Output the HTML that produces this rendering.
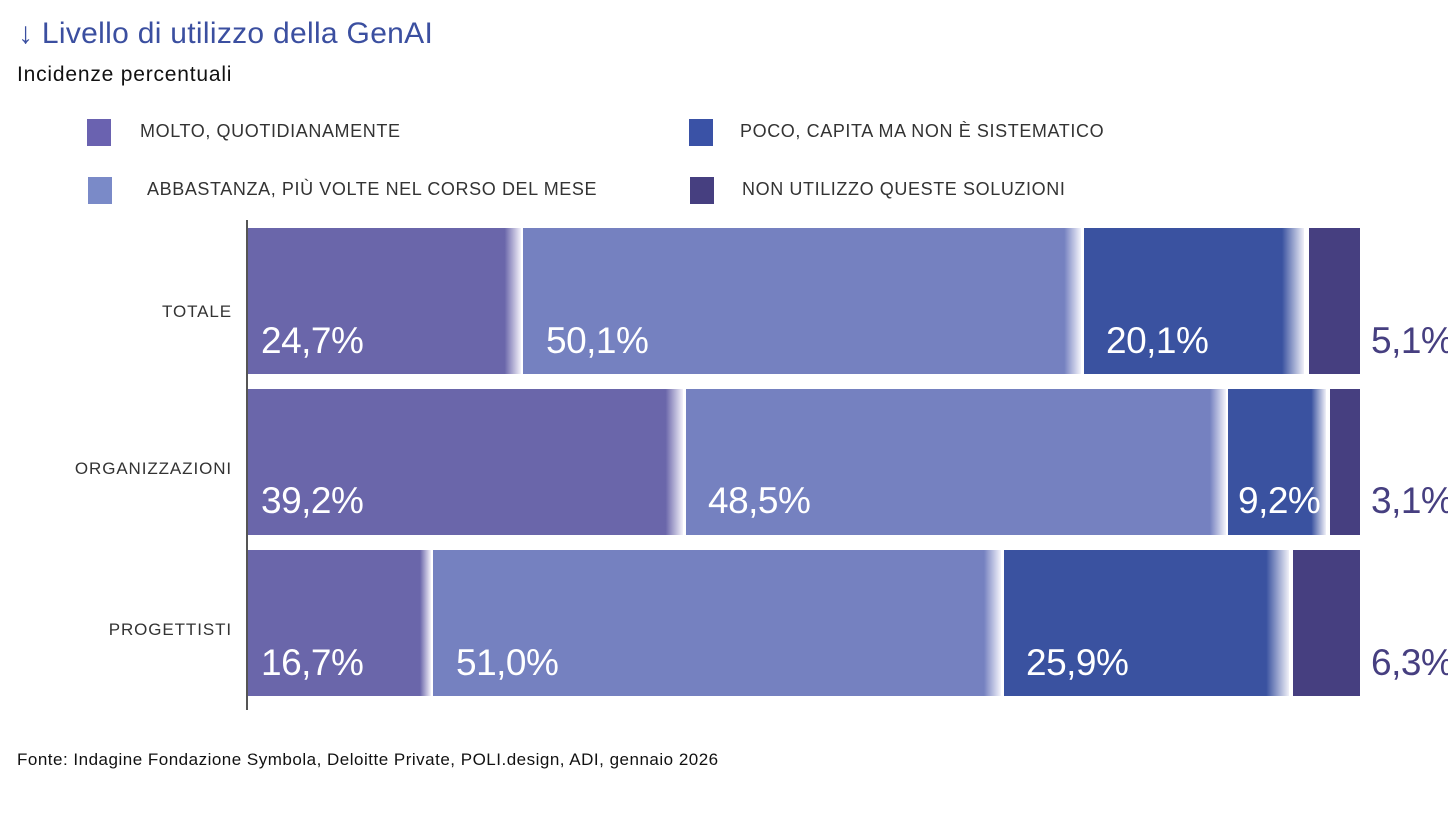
<!DOCTYPE html>
<html><head><meta charset="utf-8"><style>
body{margin:0;width:1448px;height:816px;background:#fff;position:relative;overflow:hidden;font-family:"Liberation Sans",sans-serif}
.a{position:absolute;white-space:nowrap}
.sq{position:absolute;width:24px;height:27px}
.lg{position:absolute;font-size:18px;color:#333;letter-spacing:0.6px}
.seg{position:absolute;height:146px}
.in{position:absolute;color:#fff;font-size:37px;letter-spacing:-0.5px}
.out{position:absolute;color:#463f80;font-size:37px;letter-spacing:-0.5px}
.cat{position:absolute;font-size:17px;color:#333;text-align:right;width:230px;left:2px;letter-spacing:0.9px}
</style></head><body>
<div class="a" style="left:18px;top:17px;font-size:30px;color:#3b4fa0;letter-spacing:0.3px">↓ Livello di utilizzo della GenAI</div>
<div class="a" style="left:17px;top:63px;font-size:21px;color:#111;letter-spacing:0.8px">Incidenze percentuali</div>

<div class="sq" style="left:87px;top:119px;background:#6a62b0"></div>
<div class="lg" style="left:140px;top:121px">MOLTO, QUOTIDIANAMENTE</div>
<div class="sq" style="left:88px;top:177px;background:#7a8ac8"></div>
<div class="lg" style="left:147px;top:179px">ABBASTANZA, PIÙ VOLTE NEL CORSO DEL MESE</div>
<div class="sq" style="left:689px;top:119px;background:#3a52a6"></div>
<div class="lg" style="left:740px;top:121px">POCO, CAPITA MA NON È SISTEMATICO</div>
<div class="sq" style="left:690px;top:177px;background:#463f80"></div>
<div class="lg" style="left:742px;top:179px">NON UTILIZZO QUESTE SOLUZIONI</div>

<div class="a" style="left:246px;top:220px;width:2px;height:490px;background:#555"></div>

<div class="cat" style="top:302px">TOTALE</div>
<div class="cat" style="top:459px">ORGANIZZAZIONI</div>
<div class="cat" style="top:620px">PROGETTISTI</div>

<!-- row 1 -->
<div class="seg" style="top:228px;left:248px;width:273px;background:linear-gradient(90deg,#6a66aa 94%,#f4f2fa)"></div>
<div class="seg" style="top:228px;left:523px;width:558px;background:linear-gradient(90deg,#7581c0 97%,#f4f4fb)"></div>
<div class="seg" style="top:228px;left:1084px;width:220px;background:linear-gradient(90deg,#3a52a0 90%,#f0f0f8)"></div>
<div class="seg" style="top:228px;left:1309px;width:51px;background:#463f80"></div>
<div class="in" style="left:261px;top:320px">24,7%</div>
<div class="in" style="left:546px;top:320px">50,1%</div>
<div class="in" style="left:1106px;top:320px">20,1%</div>
<div class="out" style="left:1371px;top:320px">5,1%</div>

<!-- row 2 -->
<div class="seg" style="top:389px;left:248px;width:435px;background:linear-gradient(90deg,#6a66aa 96%,#f4f2fa)"></div>
<div class="seg" style="top:389px;left:686px;width:540px;background:linear-gradient(90deg,#7581c0 97%,#f4f4fb)"></div>
<div class="seg" style="top:389px;left:1228px;width:98px;background:linear-gradient(90deg,#3a52a0 85%,#f0f0f8)"></div>
<div class="seg" style="top:389px;left:1330px;width:30px;background:#463f80"></div>
<div class="in" style="left:261px;top:480px">39,2%</div>
<div class="in" style="left:708px;top:480px">48,5%</div>
<div class="in" style="left:1238px;top:480px">9,2%</div>
<div class="out" style="left:1371px;top:480px">3,1%</div>

<!-- row 3 -->
<div class="seg" style="top:550px;left:248px;width:183px;background:linear-gradient(90deg,#6a66aa 94%,#f4f2fa)"></div>
<div class="seg" style="top:550px;left:433px;width:568px;background:linear-gradient(90deg,#7581c0 97%,#f4f4fb)"></div>
<div class="seg" style="top:550px;left:1004px;width:285px;background:linear-gradient(90deg,#3a52a0 92%,#f0f0f8)"></div>
<div class="seg" style="top:550px;left:1293px;width:67px;background:#463f80"></div>
<div class="in" style="left:261px;top:642px">16,7%</div>
<div class="in" style="left:456px;top:642px">51,0%</div>
<div class="in" style="left:1026px;top:642px">25,9%</div>
<div class="out" style="left:1371px;top:642px">6,3%</div>

<div class="a" style="left:17px;top:750px;font-size:17px;color:#111;letter-spacing:0.5px">Fonte: Indagine Fondazione Symbola, Deloitte Private, POLI.design, ADI, gennaio 2026</div>
</body></html>
